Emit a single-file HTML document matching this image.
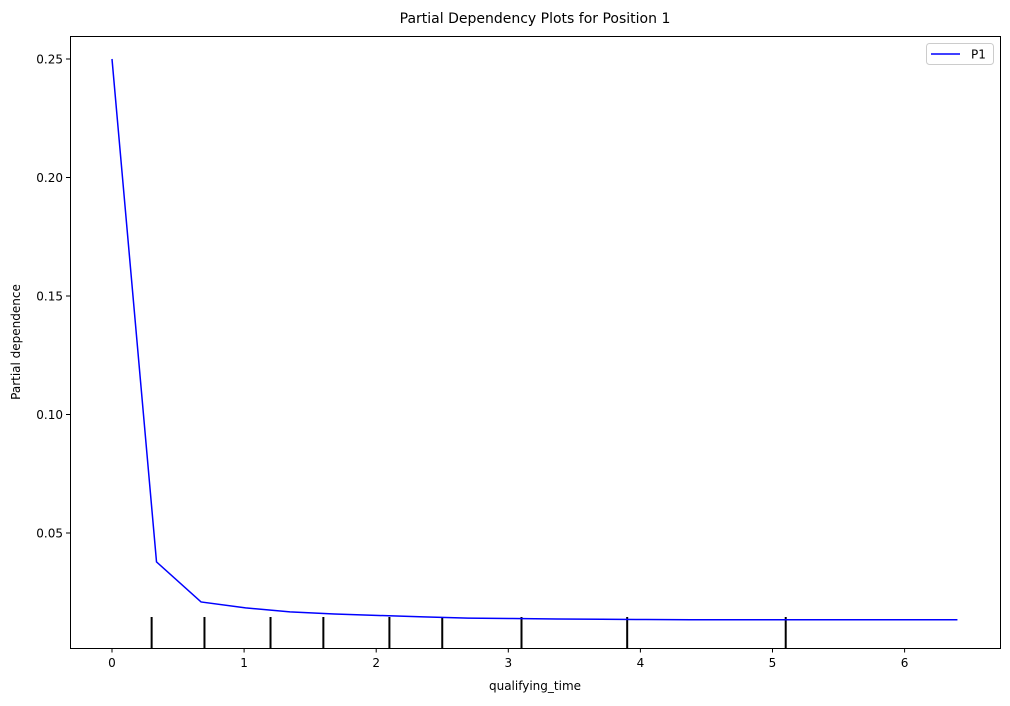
<!DOCTYPE html>
<html><head><meta charset="utf-8"><style>
body{margin:0;background:#fff;}
svg text{font-family:"DejaVu Sans","Liberation Sans",sans-serif;}
</style></head><body>
<svg id="chart" width="1010" height="701" xmlns="http://www.w3.org/2000/svg">
<rect width="1010" height="701" fill="#fff"/>
<text x="535" y="23" font-size="14" text-anchor="middle" fill="#000">Partial Dependency Plots for Position 1</text>
<g id="plot"></g>
<rect x="70.5" y="36.5" width="930" height="612" fill="none" stroke="#000" stroke-width="1"/>
<text x="535" y="690" font-size="12" text-anchor="middle">qualifying_time</text>
<text transform="translate(20,342) rotate(-90)" font-size="12" text-anchor="middle">Partial dependence</text>
<g>
<rect x="926.5" y="43.5" width="67" height="21" rx="3" fill="#fff" stroke="#ccc"/>
<line x1="931" y1="54" x2="960" y2="54" stroke="#0000ff" stroke-width="1.5"/>
<text x="971" y="58.5" font-size="12">P1</text>
</g>
</svg>
<script>
const xs=[0,0.337,0.674,1.011,1.347,1.684,2.021,2.358,2.695,3.032,3.368,3.705,4.042,4.379,4.716,5.053,5.389,5.726,6.063,6.4];
const ys=[0.25,0.0378,0.0209,0.0184,0.0167,0.0158,0.0152,0.0146,0.0141,0.0139,0.0137,0.0136,0.0135,0.0134,0.0134,0.0134,0.0134,0.0134,0.0134,0.0134];
const rug=[0.3,0.7,1.2,1.6,2.1,2.5,3.1,3.9,5.1];
const xTicks=[0,1,2,3,4,5,6];
const yTicks=[0.05,0.10,0.15,0.20,0.25];
const NS="http://www.w3.org/2000/svg";
const X=v=>112+v*132.1;
const Y=v=>533-(v-0.05)*2370;
const g=document.getElementById('plot');
function mk(t,a){const e=document.createElementNS(NS,t);for(const k in a)e.setAttribute(k,a[k]);g.appendChild(e);return e;}
xTicks.forEach(t=>{
 const l=mk('line',{x1:X(t),x2:X(t),y1:648.5,y2:652.5,stroke:'#000'});
 
 
 const tx=mk('text',{x:X(t),y:667,'font-size':12,'text-anchor':'middle'});tx.textContent=t;
 
 
});
yTicks.forEach(t=>{
 const l=mk('line',{x1:66,x2:70.5,y1:Y(t),y2:Y(t),stroke:'#000'});
 
 
 const tx=mk('text',{x:63,y:Y(t)+4.5,'font-size':12,'text-anchor':'end'});tx.textContent=t.toFixed(2);
 
 
});
rug.forEach(r=>{
 const l=mk('line',{x1:X(r),x2:X(r),y1:617,y2:648,stroke:'#000','stroke-width':2});
 
 
});
const p=mk('polyline',{points:xs.map((x,i)=>X(x)+','+Y(ys[i])).join(' '),fill:'none',stroke:'#0000ff','stroke-width':1.5});


</script>
</body></html>
